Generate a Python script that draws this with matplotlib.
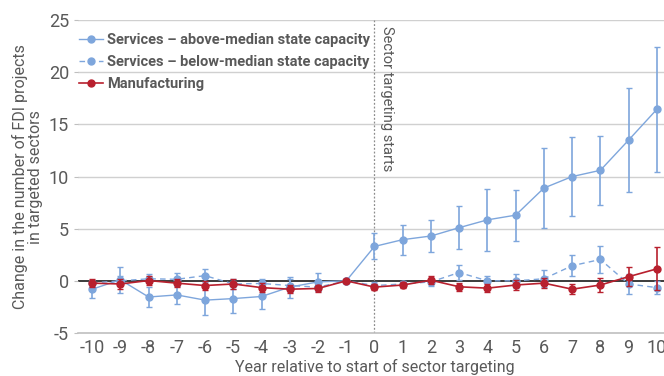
import numpy as np
import matplotlib

matplotlib.use("Agg")
import matplotlib.pyplot as plt
from matplotlib.lines import Line2D

# ── Data ──
years = list(range(-10, 11))

above = [-0.8, 0.1, -1.55, -1.35, -1.85, -1.7, -1.5, -0.6, -0.1, 0.0,
         3.3, 3.95, 4.3, 5.1, 5.85, 6.3, 8.9, 10.0, 10.6, 13.5, 16.45]
above_err = [0.8, 1.25, 0.95, 0.9, 1.4, 1.4, 1.2, 1.0, 0.9, 0.0,
             1.25, 1.45, 1.55, 2.05, 2.95, 2.45, 3.8, 3.75, 3.3, 5.0, 6.0]

below = [-0.2, 0.0, 0.2, 0.15, 0.5, -0.3, -0.25, -0.45, -0.6, 0.0,
         -0.45, -0.3, -0.1, 0.8, 0.0, 0.0, 0.2, 1.45, 2.05, -0.3, -0.65]
below_err = [0.3, 0.5, 0.45, 0.6, 0.65, 0.5, 0.45, 0.6, 0.4, 0.0,
             0.3, 0.3, 0.4, 0.7, 0.5, 0.7, 0.8, 1.0, 1.3, 1.0, 0.6]

manuf = [-0.22, -0.3, 0.03, -0.22, -0.45, -0.3, -0.65, -0.8, -0.73, 0.0,
         -0.6, -0.4, 0.06, -0.57, -0.7, -0.4, -0.22, -0.8, -0.4, 0.4, 1.15]
manuf_err = [0.35, 0.5, 0.4, 0.4, 0.4, 0.5, 0.4, 0.4, 0.35, 0.0,
             0.3, 0.3, 0.4, 0.4, 0.4, 0.5, 0.5, 0.45, 0.65, 0.9, 2.05]

labels = [
    "Services – above-median state capacity",
    "Services – below-median state capacity",
    "Manufacturing",
]

BLUE = "#7ea6dc"
RED = "#b8202e"
TXT = "#595959"
DASH = (0, (4, 3))

plt.rcParams["font.family"] = ["Roboto", "DejaVu Sans"]
plt.rcParams["axes.unicode_minus"] = False

fig = plt.figure(figsize=(6.64, 3.76), dpi=100)
ax = fig.add_axes([0.1175, 0.1144, 0.893, 0.832])

# grid + zero line + start marker
for y in [5, 10, 15, 20, 25]:
    ax.axhline(y, color="#d0d0d0", lw=1.0, zorder=0)
ax.axhline(0, color="#1a1a1a", lw=1.2, zorder=1)
ax.axvline(0, color="#8c8c8c", lw=0.9, ls=(0, (1.5, 1.5)), zorder=1)

ax.errorbar(years, above, yerr=above_err, color=BLUE, lw=1.0, marker="o",
            ms=5, capsize=2, elinewidth=1.2, capthick=1.0, zorder=3)
ax.errorbar(years, below, yerr=below_err, color=BLUE, lw=1.0, ls=DASH,
            marker="o", ms=5, capsize=2, elinewidth=1.2, capthick=1.0, zorder=3)
ax.errorbar(years, manuf, yerr=manuf_err, color=RED, lw=1.2, marker="o",
            ms=5, capsize=2, elinewidth=1.2, capthick=1.0, zorder=4)

ax.text(0.2, 24.4, "Sector targeting starts", rotation=-90, ha="left", va="top",
        color=TXT, fontsize=10.5)

ax.set_xlim(-10.5, 10.5)
ax.set_ylim(-5, 25)
ax.set_xticks(years)
ax.set_yticks([-5, 0, 5, 10, 15, 20, 25])
ax.tick_params(axis="both", colors="#bfbfbf", labelcolor=TXT, labelsize=13,
               length=3, width=0.8)
ax.tick_params(axis="x", length=0, pad=4)
for s in ["top", "right", "left"]:
    ax.spines[s].set_visible(False)
ax.spines["bottom"].set_color("#bfbfbf")
ax.spines["bottom"].set_linewidth(1.2)

ax.set_xlabel("Year relative to start of sector targeting", color=TXT,
              fontsize=11.5, labelpad=2)
ax.set_ylabel("Change in the number of FDI projects\nin targeted sectors",
              color=TXT, fontsize=11.5, labelpad=4, linespacing=1.05)

handles = [
    Line2D([], [], color=BLUE, lw=1.0, marker="o", ms=5),
    Line2D([], [], color=BLUE, lw=1.0, ls=DASH, marker="o", ms=5),
    Line2D([], [], color=RED, lw=1.2, marker="o", ms=5),
]
leg = ax.legend(handles, labels, loc="upper left", bbox_to_anchor=(0.0, 0.962),
                frameon=False, fontsize=10.5, handlelength=1.6, handletextpad=0.3,
                labelspacing=0.52, borderaxespad=0.0, borderpad=0.1)
for t in leg.get_texts():
    t.set_color(TXT)
    t.set_fontweight("bold")

fig.savefig("out.png", dpi=100)
